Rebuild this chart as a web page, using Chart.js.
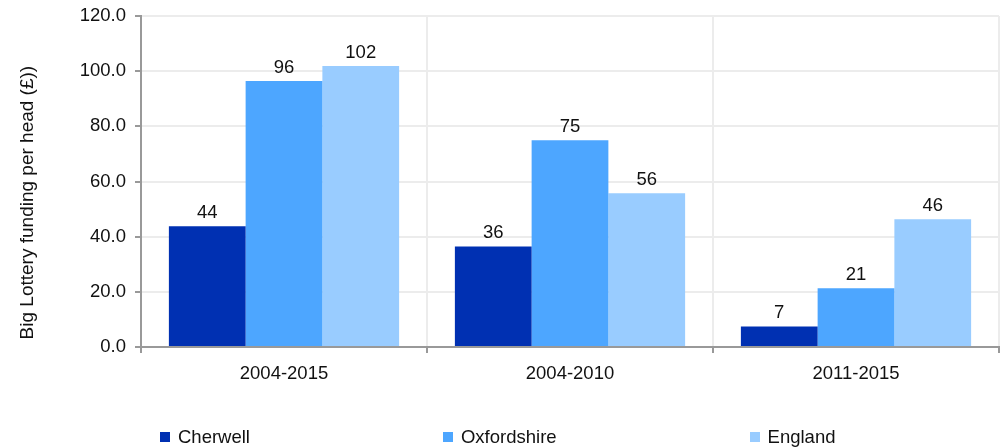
<!DOCTYPE html>
<html>
<head>
<meta charset="utf-8">
<script src="https://cdn.jsdelivr.net/npm/chart.js@4/dist/chart.umd.min.js"></script>
<style>
  html, body { margin: 0; padding: 0; background: #fff; }
  #wrap { position: relative; width: 1005px; height: 447px; }
  #chart { position: absolute; left: 0; top: 0; }
  #legend { position: absolute; left: 160px; top: 426px; display: flex; gap: 193px;
            font-family: "Liberation Sans", Arial, sans-serif; font-size: 18.5px; color: #111; }
  .item { display: flex; align-items: center; white-space: nowrap; }
  .box { width: 10px; height: 10px; margin-right: 8px; }
</style>
</head>
<body>
<div id="wrap">
  <canvas id="chart" width="1005" height="447"></canvas>
  <div id="legend"></div>
</div>
<script>
const categories = ["2004-2015", "2004-2010", "2011-2015"];
const seriesNames = ["Cherwell", "Oxfordshire", "England"];
const cherwell = [43.8, 36.4, 7.4];
const oxfordshire = [96.4, 75.0, 21.3];
const england = [101.9, 55.7, 46.3];
const yTicks = [0, 20, 40, 60, 80, 100, 120];
const yTitle = "Big Lottery funding per head (£))";

const colors = ["#0030B2", "#4DA6FF", "#99CCFF"];
const FONT = "Liberation Sans, Arial, sans-serif";
const FS = 18.5;

const valueLabels = {
  id: 'valueLabels',
  afterDatasetsDraw(chart) {
    const ctx = chart.ctx;
    ctx.save();
    ctx.font = FS + "px " + FONT;
    ctx.fillStyle = "#111";
    ctx.textAlign = "center";
    ctx.textBaseline = "bottom";
    chart.data.datasets.forEach((ds, i) => {
      const meta = chart.getDatasetMeta(i);
      meta.data.forEach((bar, j) => {
        ctx.fillText(String(Math.round(ds.data[j])), bar.x, bar.y - 4);
      });
    });
    ctx.restore();
  }
};

new Chart(document.getElementById("chart"), {
  type: "bar",
  data: {
    labels: categories,
    datasets: [
      { label: seriesNames[0], data: cherwell, backgroundColor: colors[0] },
      { label: seriesNames[1], data: oxfordshire, backgroundColor: colors[1] },
      { label: seriesNames[2], data: england, backgroundColor: colors[2] }
    ]
  },
  options: {
    responsive: false,
    animation: false,
    events: [],
    layout: { padding: { left: 12, right: 6, top: 16, bottom: 64 } },
    datasets: { bar: { categoryPercentage: 0.805, barPercentage: 1.0 } },
    plugins: { legend: { display: false }, tooltip: { enabled: false } },
    scales: {
      x: {
        grid: { color: "#ececec", lineWidth: 2, tickColor: "#999", tickLength: 6, offset: true },
        border: { color: "#999", width: 2 },
        ticks: { color: "#111", font: { family: FONT, size: FS }, padding: 10 },
        afterFit(s) { s.height = 36; s.paddingLeft = 0; s.paddingRight = 0; }
      },
      y: {
        min: 0, max: 120,
        afterBuildTicks(s) { s.ticks = yTicks.map(v => ({ value: v })); },
        grid: { color: "#ececec", lineWidth: 2, tickColor: "#999", tickLength: 6 },
        border: { color: "#999", width: 2 },
        ticks: { color: "#111", font: { family: FONT, size: FS }, padding: 9,
                 callback: v => Number(v).toFixed(1) },
        title: { display: true, text: yTitle + "\u00A0".repeat(8), color: "#111",
                 font: { family: FONT, size: 19 }, padding: { top: 4, bottom: 4 } },
        afterFit(s) { s.width = 129; s.paddingTop = 0; s.paddingBottom = 0; }
      }
    }
  },
  plugins: [valueLabels]
});

const legend = document.getElementById("legend");
seriesNames.forEach((n, i) => {
  const it = document.createElement("div");
  it.className = "item";
  const b = document.createElement("span");
  b.className = "box";
  b.style.background = colors[i];
  const t = document.createElement("span");
  t.textContent = n;
  it.appendChild(b); it.appendChild(t);
  legend.appendChild(it);
});
</script>
</body>
</html>
